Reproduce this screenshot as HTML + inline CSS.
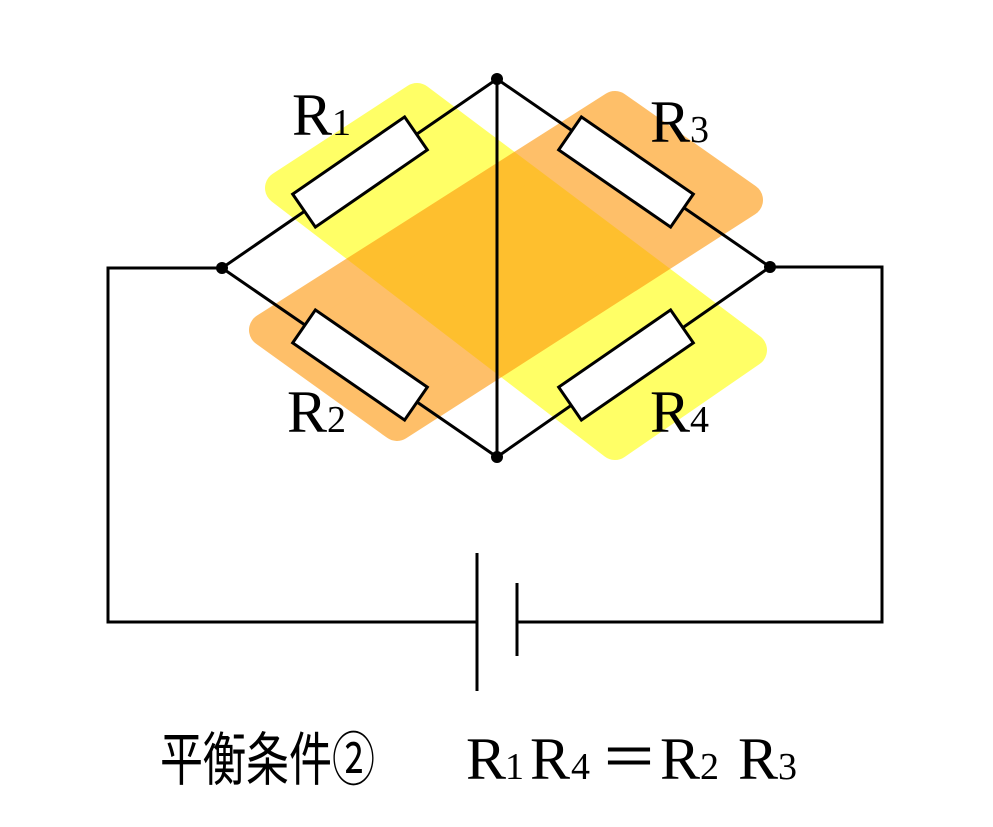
<!DOCTYPE html>
<html><head><meta charset="utf-8"><style>
html,body{margin:0;padding:0;background:#fff;}
svg{display:block;}
.s{font-family:"Liberation Serif",serif;fill:#000;}
.c{font-family:"Liberation Sans","Noto Sans CJK JP",sans-serif;fill:#000;}
</style></head><body>
<svg width="993" height="827" viewBox="0 0 993 827" xmlns="http://www.w3.org/2000/svg">
<polygon points="282,188 417,100 750,350 615,443" fill="#ffff66" stroke="#ffff66" stroke-width="34" stroke-linejoin="round"/>
<g opacity="0.61">
<polygon points="266,330 615,108 746,200 397,424" fill="#fe980b" stroke="#fe980b" stroke-width="34" stroke-linejoin="round"/>
</g>
<g stroke="#000" stroke-width="3" fill="none">
<polyline points="497,79 222,268 497,457 770,267 497,79"/>
<line x1="497" y1="79" x2="497" y2="457"/>
<polyline points="222,268 108,268 108,622 477,622"/>
<polyline points="517,622 882,622 882,267 770,267"/>
<line x1="477" y1="553" x2="477" y2="691"/>
<line x1="517" y1="583" x2="517" y2="656"/>
</g>
<g fill="#fff" stroke="#000" stroke-width="3">
<rect x="-68" y="-20" width="136" height="40" transform="translate(360,172) rotate(-34.6)"/>
<rect x="-68" y="-20" width="136" height="40" transform="translate(626,172) rotate(34.6)"/>
<rect x="-68" y="-20" width="136" height="40" transform="translate(360,365) rotate(34.6)"/>
<rect x="-68" y="-20" width="136" height="40" transform="translate(626,365) rotate(-34.6)"/>
</g>
<g fill="#000">
<circle cx="497" cy="79" r="6"/><circle cx="222" cy="268" r="6"/>
<circle cx="770" cy="267" r="6"/><circle cx="497" cy="457" r="6"/>
</g>
<text class="s" x="292" y="135" font-size="60">R<tspan font-size="38">1</tspan></text>
<text class="s" x="650" y="142" font-size="60">R<tspan font-size="38">3</tspan></text>
<text class="s" x="287" y="432" font-size="60">R<tspan font-size="38">2</tspan></text>
<text class="s" x="650" y="432" font-size="60">R<tspan font-size="38">4</tspan></text>
<text class="c" x="160" y="780" font-size="58" textLength="215" lengthAdjust="spacingAndGlyphs">平衡条件②</text>
<text class="s" x="466" y="779" font-size="60">R</text>
<text class="s" x="505" y="779" font-size="38">1</text>
<text class="s" x="530" y="779" font-size="60">R</text>
<text class="s" x="571" y="779" font-size="38">4</text>
<text class="c" x="600" y="778" font-size="58">＝</text>
<text class="s" x="660" y="779" font-size="60">R</text>
<text class="s" x="700" y="779" font-size="38">2</text>
<text class="s" x="738" y="779" font-size="60">R</text>
<text class="s" x="778" y="779" font-size="38">3</text>
</svg>
</body></html>
